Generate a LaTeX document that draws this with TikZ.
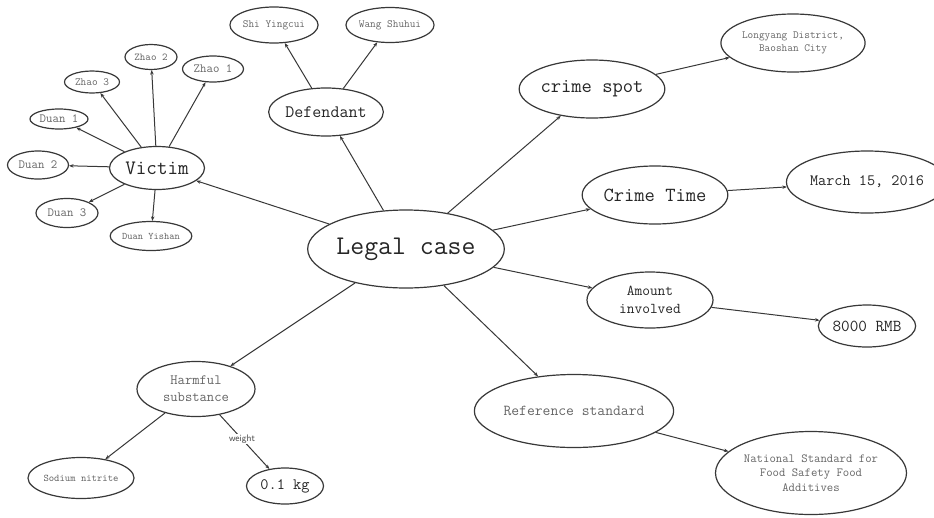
\documentclass[tikz,border=0pt]{standalone}
\usepackage{fontspec}
\usetikzlibrary{shapes.geometric,arrows.meta}
\newcommand{\fsz}[2]{\fontsize{#1}{#2}\selectfont}
\tikzset{
  ell/.style={ellipse, draw=black!78, line width=1.2pt, inner sep=0pt, align=center},
  dk/.style={text=black!85},
  lt/.style={text=black!60},
  tf/.style 2 args={font=\ttfamily\fsz{#1}{#2}},
  conn/.style={draw=black!78, line width=1pt, -{Stealth[length=4.5pt,width=3.5pt]}},
}
\begin{document}
\begin{tikzpicture}[x=1pt,y=-1pt]
\useasboundingbox[fill=white] (0,0) rectangle (934,517);
% center
\node[ell,dk,tf={27}{30},minimum width=172pt,minimum height=78pt] (lc) at (406,249) {Legal case};
% victim group
\node[ell,dk,tf={20.5}{24},minimum width=95pt,minimum height=43pt] (vic) at (157,168) {Victim};
\node[ell,lt,tf={10.5}{12},minimum width=52pt,minimum height=25pt] (z2) at (151,57) {Zhao 2};
\node[ell,lt,tf={11}{12},minimum width=55pt,minimum height=22pt] (z3) at (92,82) {Zhao 3};
\node[ell,lt,tf={12.5}{14},minimum width=61pt,minimum height=26pt] (z1) at (213,69) {Zhao 1};
\node[ell,lt,tf={12.5}{14},minimum width=58pt,minimum height=20pt] (d1) at (59,119) {Duan 1};
\node[ell,lt,tf={12.5}{14},minimum width=61pt,minimum height=28pt] (d2) at (38,165) {Duan 2};
\node[ell,lt,tf={12.5}{14},minimum width=62pt,minimum height=29pt] (d3) at (67,213) {Duan 3};
\node[ell,lt,tf={10}{12},minimum width=71pt,minimum height=29pt] (dy) at (151,236) {Duan Yishan};
% defendant group
\node[ell,dk,tf={17.5}{20},minimum width=104pt,minimum height=48pt] (def) at (326,112) {Defendant};
\node[ell,lt,tf={11}{13},minimum width=79pt,minimum height=36pt] (shi) at (274,25) {Shi Yingcui};
\node[ell,lt,tf={11}{13},minimum width=73pt,minimum height=35pt] (wang) at (390,25) {Wang Shuhui};
% crime spot
\node[ell,dk,tf={20}{24},minimum width=125pt,minimum height=58pt] (cs) at (592,89) {crime spot};
\node[ell,lt,tf={11}{12.7},minimum width=126pt,minimum height=58pt] (ly) at (793,43) {Longyang District,\\Baoshan City};
% crime time
\node[ell,dk,tf={20}{24},minimum width=126pt,minimum height=58pt] (ct) at (655,195) {Crime Time};
\node[ell,dk,tf={15.8}{18},minimum width=134pt,minimum height=62pt] (mar) at (867,182) {March 15, 2016};
% amount
\node[ell,dk,tf={15}{18},minimum width=126pt,minimum height=56pt] (amt) at (650,300) {Amount\\involved};
\node[ell,dk,tf={16.7}{19},minimum width=89pt,minimum height=42pt] (rmb) at (867,326) {8000 RMB};
% reference
\node[ell,lt,tf={15.2}{18},minimum width=160pt,minimum height=73pt] (ref) at (574,411) {Reference standard};
\node[ell,lt,tf={12.4}{14.7},minimum width=191pt,minimum height=83pt] (nat) at (811,473) {National Standard for\\Food Safety Food\\Additives};
% harmful
\node[ell,lt,tf={14.2}{16.7},minimum width=118pt,minimum height=55pt] (harm) at (196,389) {Harmful\\substance};
\node[ell,lt,tf={10.2}{12},minimum width=90pt,minimum height=41pt] (sod) at (81,478) {Sodium nitrite};
\node[ell,dk,tf={15.9}{18},minimum width=77pt,minimum height=36pt] (kg) at (285,486) {0.1 kg};
% connectors
\draw[conn] (lc) -- (vic);
\draw[conn] (lc) -- (def);
\draw[conn] (lc) -- (cs);
\draw[conn] (lc) -- (ct);
\draw[conn] (lc) -- (amt);
\draw[conn] (lc) -- (ref);
\draw[conn] (lc) -- (harm);
\draw[conn] (vic) -- (z2);
\draw[conn] (vic) -- (z3);
\draw[conn] (vic) -- (z1);
\draw[conn] (vic) -- (d1);
\draw[conn] (vic) -- (d2);
\draw[conn] (vic) -- (d3);
\draw[conn] (vic) -- (dy);
\draw[conn] (def) -- (shi);
\draw[conn] (def) -- (wang);
\draw[conn] (cs) -- (ly);
\draw[conn] (ct) -- (mar);
\draw[conn] (amt) -- (rmb);
\draw[conn] (ref) -- (nat);
\draw[conn] (harm) -- (sod);
\draw[conn] (harm) -- node[pos=0.45, fill=white, inner sep=1pt, font=\sffamily\fsz{9.5}{11}, text=black!75] (wl) {weight} (kg);
\end{tikzpicture}
\end{document}
